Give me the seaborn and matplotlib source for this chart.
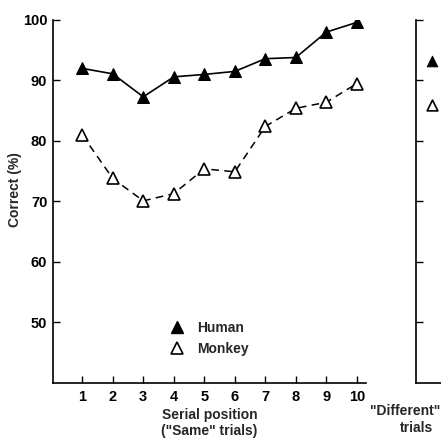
import matplotlib
matplotlib.use("Agg")
import matplotlib.pyplot as plt
from matplotlib.lines import Line2D
import seaborn as sns
import pandas as pd

# values
positions = [1, 2, 3, 4, 5, 6, 7, 8, 9, 10]
human_same = [92.0, 91.1, 87.3, 90.6, 91.0, 91.5, 93.6, 93.8, 98.0, 99.6]
monkey_same = [81.0, 73.8, 70.1, 71.3, 75.4, 74.9, 82.4, 85.4, 86.4, 89.5]
human_diff = [93.2]
monkey_diff = [85.9]
yticks = [50, 60, 70, 80, 90, 100]

sns.set_style("ticks")
plt.rcParams['font.family'] = ['Liberation Sans', 'DejaVu Sans']
plt.rcParams['font.weight'] = 'bold'

fig = plt.figure(figsize=(4.41, 4.44), dpi=100)
ax = fig.add_axes([0.120, 0.1374, 0.710, 0.8176])

same_df = pd.DataFrame({'pos': positions, 'human': human_same, 'monkey': monkey_same})

sns.lineplot(data=same_df, x='pos', y='human', ax=ax, color='black', lw=1.2,
             marker='^', markersize=8, markerfacecolor='black',
             markeredgecolor='black')
sns.lineplot(data=same_df, x='pos', y='monkey', ax=ax, color='black', lw=1.1,
             linestyle=(0, (5, 3.5)), marker='^', markersize=8,
             markerfacecolor='white', markeredgecolor='black', markeredgewidth=1.2)

ax.set_xlim(0.04, 10.3)
ax.set_ylim(40, 100)
ax.set_xticks(positions)
ax.set_yticks(yticks)
ax.tick_params(axis='both', direction='in', length=5, width=1, colors='black',
               labelsize=10.5, pad=5)
ax.tick_params(axis='y', pad=4)
for lab in ax.get_xticklabels() + ax.get_yticklabels():
    lab.set_fontweight('bold')
for side in ['top', 'right']:
    ax.spines[side].set_visible(False)
for side in ['left', 'bottom']:
    ax.spines[side].set_linewidth(1.2)
    ax.spines[side].set_color('black')
ax.set_xlabel('Serial position\n("Same" trials)', fontsize=10, fontweight='bold',
              linespacing=1.25)
ax.xaxis.set_label_coords(0.5, -0.068)
ax.set_ylabel('Correct (%)', fontsize=10, fontweight='bold')
ax.yaxis.set_label_coords(-0.098, 0.534)

handles = [
    Line2D([], [], linestyle='none', marker='^', markersize=8, color='black',
           markerfacecolor='black', label='Human'),
    Line2D([], [], linestyle='none', marker='^', markersize=8, color='black',
           markerfacecolor='white', markeredgewidth=1.2, label='Monkey'),
]
ax.legend(handles=handles, loc='lower left', bbox_to_anchor=(0.313, 0.039),
          frameon=False, prop={'size': 10, 'weight': 'bold'},
          handletextpad=0.4, labelspacing=0.55)

# "Different" trials panel, cut by the right edge of the figure
ax2 = fig.add_axes([0.943, 0.1374, 0.16, 0.8176])
diff_df = pd.DataFrame({'cat': [0, 0], 'val': human_diff + monkey_diff,
                        'who': ['Human', 'Monkey']})
sns.scatterplot(data=diff_df[diff_df.who == 'Human'], x='cat', y='val', ax=ax2,
                marker='^', s=60, color='black', edgecolor='black', legend=False)
sns.scatterplot(data=diff_df[diff_df.who == 'Monkey'], x='cat', y='val', ax=ax2,
                marker='^', s=60, facecolor='white', edgecolor='black',
                linewidth=1.2, legend=False)
ax2.set_xlim(-0.3, 1)
ax2.set_ylim(40, 100)
ax2.set_yticks(yticks)
ax2.set_yticklabels([])
ax2.set_xticks([])
ax2.set_xlabel('')
ax2.set_ylabel('')
ax2.tick_params(axis='y', direction='in', length=5, width=1, colors='black')
for side in ['top', 'right']:
    ax2.spines[side].set_visible(False)
for side in ['left', 'bottom']:
    ax2.spines[side].set_linewidth(1.2)
    ax2.spines[side].set_color('black')

fig.text(405 / 441, 1 - 411 / 444, '"Different"', ha='center', va='center',
         fontsize=10, fontweight='bold')
fig.text(417 / 441, 1 - 428 / 444, 'trials', ha='center', va='center',
         fontsize=10, fontweight='bold')

fig.savefig('out.png', dpi=100)
